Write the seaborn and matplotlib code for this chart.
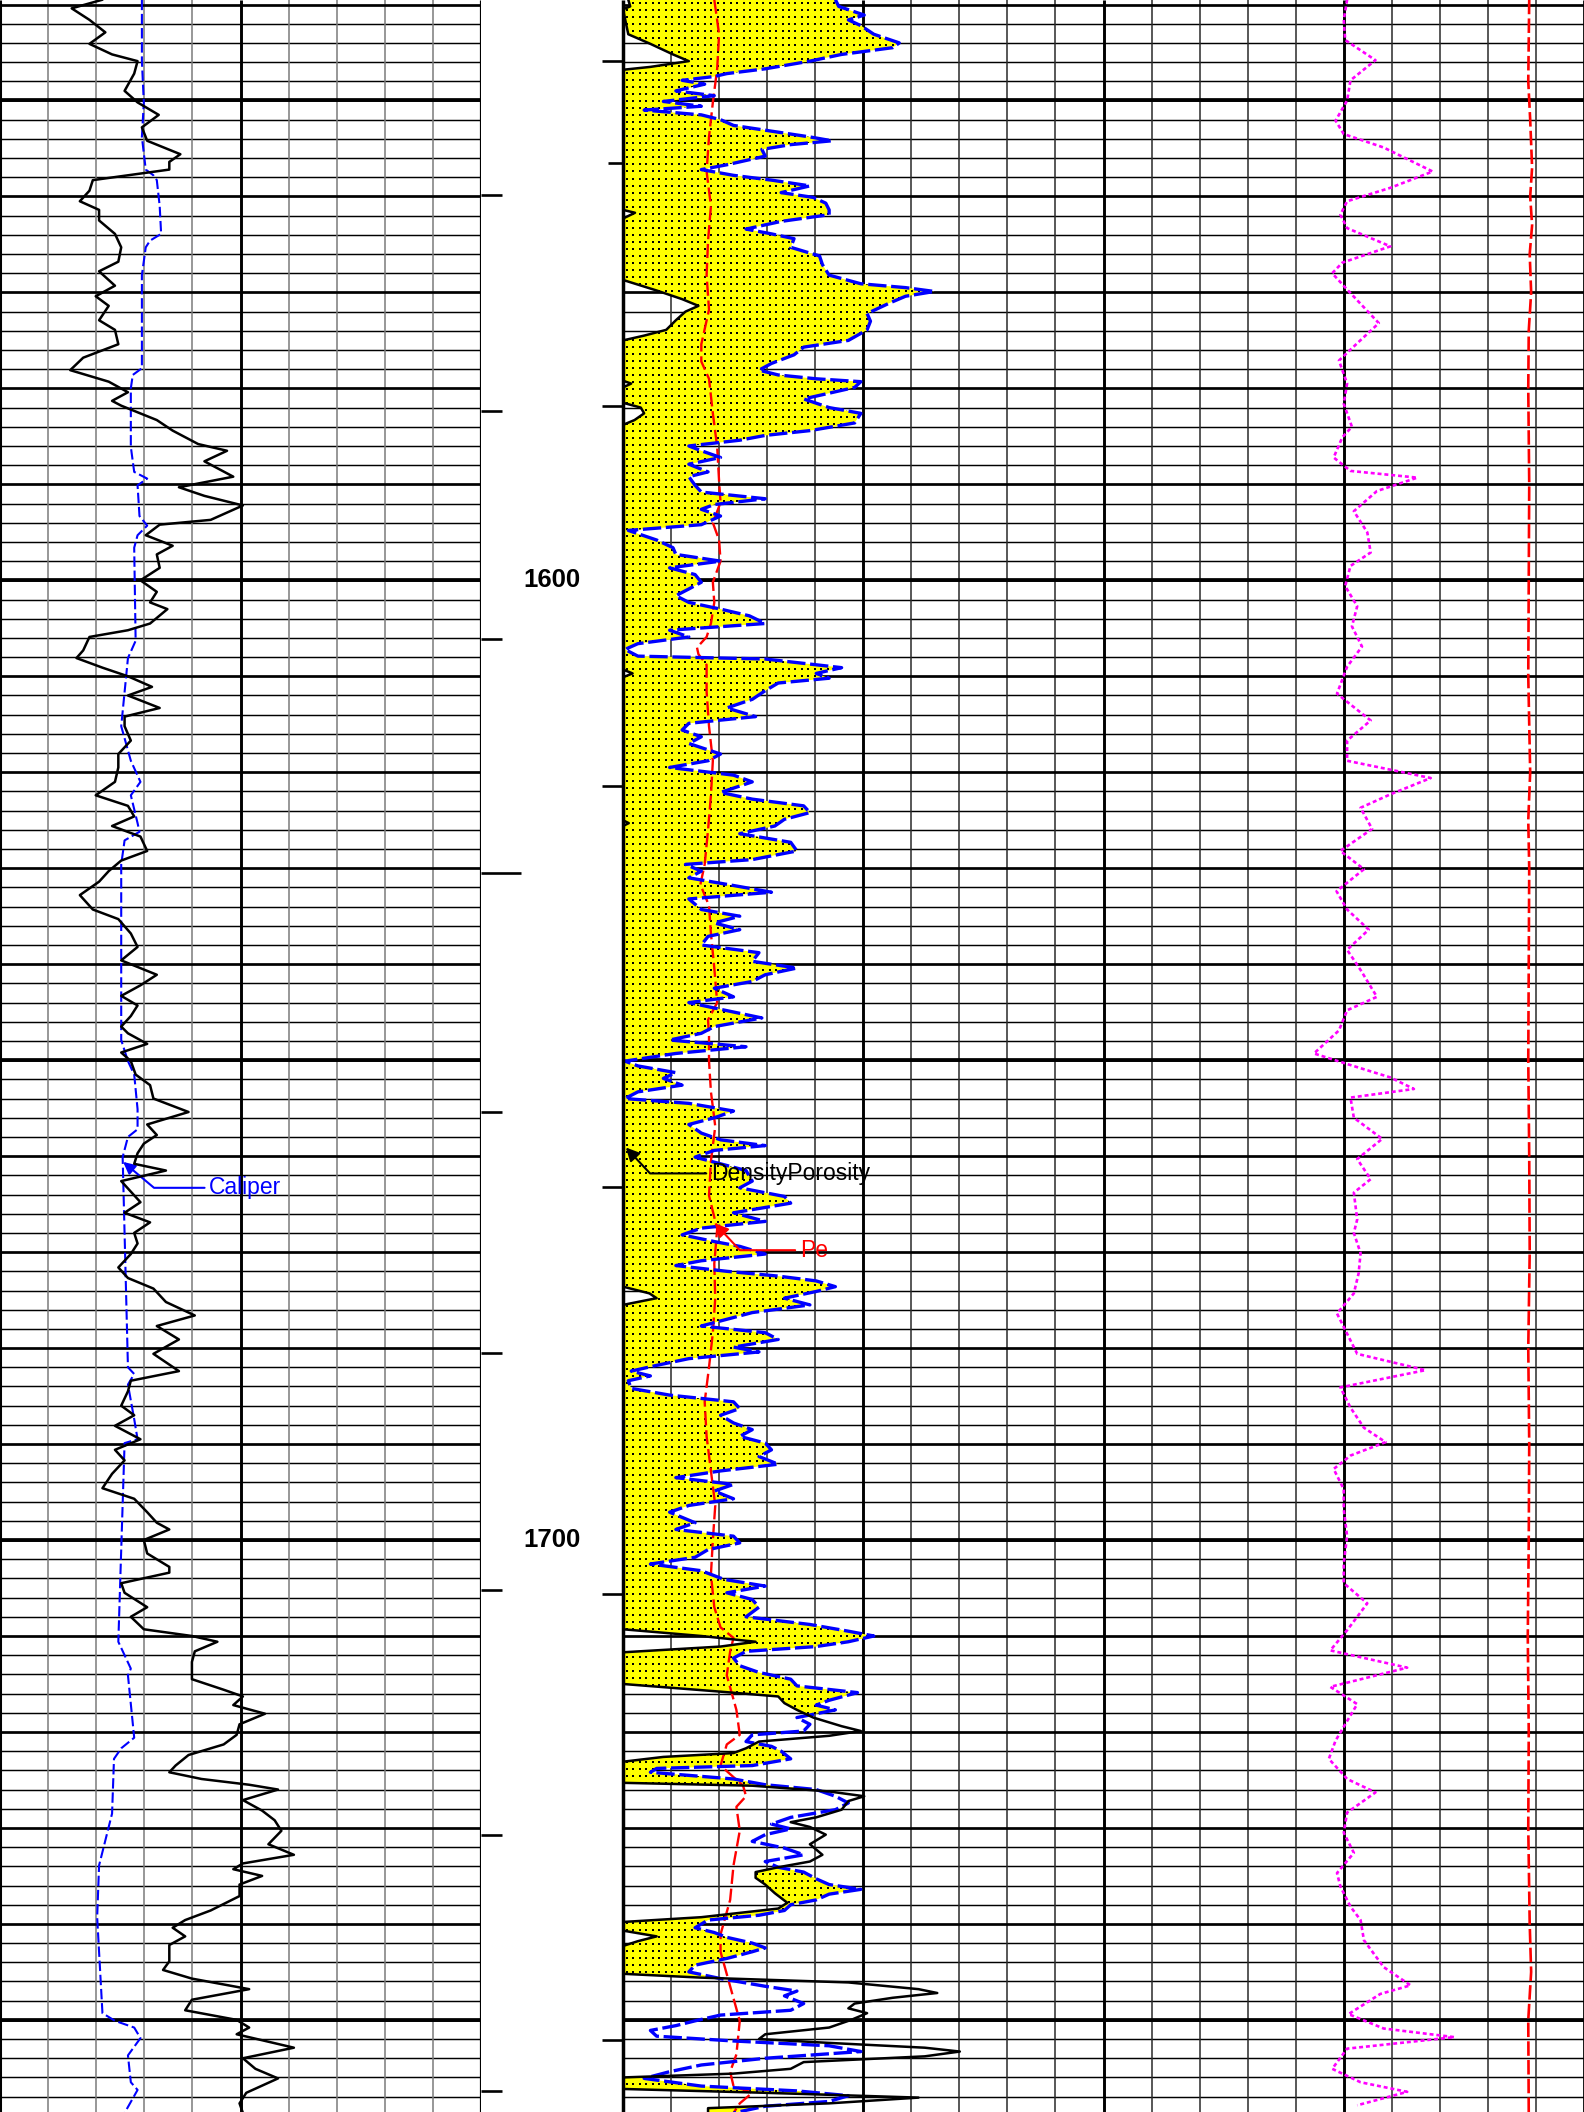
import numpy as np
import matplotlib
matplotlib.use("Agg")
import matplotlib.pyplot as plt
import seaborn as sns
from matplotlib.path import Path

# ---------------- depth window ----------------
DEPTH_TOP, DEPTH_BOT = 1539.53, 1759.6

# ---------------- track 1 : gamma ray (grid-division units, 0-10) ----------------
gr_depth = [1539.5, 1540.4, 1541.6, 1542.9, 1544.1, 1545.2, 1545.9, 1547.2, 1549.0, 1550.2,
            1551.5, 1552.8, 1554.2, 1555.6, 1556.4, 1557.2, 1557.8, 1558.3, 1559.4, 1560.5,
            1561.4, 1562.5, 1563.9, 1565.3, 1566.8, 1567.8, 1569.3, 1570.4, 1571.4, 1572.9,
            1573.9, 1575.4, 1576.8, 1578.1, 1579.3, 1580.4, 1581.3, 1581.8, 1583.3, 1584.4,
            1585.8, 1586.5, 1587.6, 1589.2, 1590.3, 1591.2, 1592.2,
            1593.7, 1594.2, 1595.3, 1596.4, 1597.3, 1598.7, 1600.0, 1601.2, 1602.3, 1603.0,
            1604.5, 1605.2, 1605.9, 1607.3, 1608.1, 1609.1, 1610.0, 1611.1, 1612.0, 1613.3,
            1614.2, 1615.2, 1616.7, 1618.1, 1619.5, 1621.0, 1622.4, 1623.5, 1624.6, 1625.6,
            1626.7, 1628.2, 1629.2, 1630.3, 1631.4, 1632.8, 1634.3, 1635.3, 1636.8, 1638.2,
            1639.6, 1641.1, 1642.2, 1643.3, 1644.3, 1645.4, 1646.5, 1647.2, 1648.3, 1649.2,
            1650.1, 1651.5, 1652.6, 1654.0, 1655.4, 1656.7, 1657.8, 1658.7, 1659.7, 1660.8,
            1661.5, 1662.6, 1663.7, 1664.8, 1665.9, 1666.9, 1668.0, 1669.1, 1670.2, 1671.6,
            1672.7, 1673.8, 1675.2, 1676.6, 1677.7, 1679.1, 1680.6, 1682.4, 1683.4, 1684.5,
            1686.0, 1687.0, 1688.1, 1689.5, 1690.6, 1691.7, 1693.1, 1694.6, 1695.7, 1697.1,
            1698.2, 1698.9, 1700.0, 1701.4, 1702.8,
            1703.4, 1704.5, 1705.5, 1707.0, 1708.0, 1709.3, 1710.0, 1710.6, 1711.6, 1712.7,
            1714.5, 1715.6, 1716.3, 1717.2, 1718.1, 1719.2, 1720.3, 1721.3, 1722.4, 1723.5,
            1724.2, 1724.9, 1725.5, 1726.0, 1727.1, 1728.2, 1729.2, 1730.3, 1731.7, 1732.8,
            1733.7, 1734.3, 1735.0, 1735.9, 1737.1, 1738.6, 1739.6, 1740.4, 1741.3, 1742.2,
            1743.9, 1744.8, 1745.7, 1746.8, 1747.9, 1749.0, 1750.0, 1750.8, 1751.5, 1752.9,
            1754.0, 1755.1, 1756.1, 1757.6, 1758.7, 1759.7]
gr_value = [2.13, 1.49, 1.86, 2.19, 1.86, 2.33, 2.86, 2.79, 2.59, 2.86,
            3.30, 2.95, 3.06, 3.75, 3.52, 3.52, 2.66, 1.93, 1.86, 1.66,
            2.06, 2.06, 2.39, 2.52, 2.46, 2.06, 2.39, 1.99, 2.26, 2.06,
            2.39, 2.46, 1.73, 1.46, 2.26, 2.66, 2.33, 2.52, 3.26, 3.59,
            4.12, 4.72, 4.25, 4.85, 3.72, 4.25, 5.05,
            4.38, 3.32, 3.03, 3.59, 3.26, 3.32, 2.92, 3.26, 3.12, 3.48,
            3.12, 2.66, 1.86, 1.73, 1.59, 2.13, 2.66, 3.16, 2.66, 3.32,
            2.59, 2.59, 2.72, 2.46, 2.46, 2.39, 1.99, 2.66, 2.79, 2.33,
            2.92, 3.06, 2.52, 2.26, 2.06, 1.66, 1.93, 2.46, 2.72, 2.86,
            2.52, 3.26, 2.92, 2.52, 2.86, 2.72, 2.52, 2.66, 3.06, 2.52,
            2.72, 2.82, 3.12, 3.19, 3.92, 3.06, 3.26, 2.99, 2.86, 2.79,
            3.45, 2.52, 2.72, 2.92, 2.59, 3.12, 2.79, 2.86, 2.72, 2.46,
            2.66, 3.19, 3.45, 4.05, 3.26, 3.72, 3.19, 3.72, 2.72, 2.66,
            2.52, 2.79, 2.39, 2.92, 2.39, 2.59, 2.33, 2.13, 2.79, 3.06,
            3.26, 3.52, 2.99, 3.06, 3.52,
            3.52, 2.52, 2.59, 3.06, 2.72, 2.99, 3.99, 4.52, 4.05, 3.99,
            3.99, 4.65, 5.05, 4.85, 5.51, 4.98, 4.92, 4.65, 3.92, 3.65,
            3.52, 4.19, 5.18, 5.78, 5.05, 5.45, 5.71, 5.85, 5.58, 6.11,
            5.05, 4.85, 5.45, 4.98, 4.98, 4.38, 3.85, 3.59, 3.85, 3.52,
            3.52, 3.39, 3.99, 5.18, 3.99, 3.85, 4.92, 5.18, 4.92, 6.11,
            5.05, 5.31, 5.78, 5.12, 4.98, 5.05]

# ---------------- track 1 : caliper ----------------
cal_depth = [1539.5, 1545.9, 1550.2, 1553.8, 1557.2, 1557.8, 1558.3, 1561.0, 1563.9, 1564.6,
             1565.3, 1568.2, 1577.9, 1578.6, 1580.0, 1586.1, 1588.7, 1589.4, 1590.1, 1593.3,
             1594.3, 1595.3, 1596.6, 1606.3, 1608.1, 1615.2, 1618.8, 1621.0, 1622.4, 1625.3,
             1626.2, 1627.1, 1629.6, 1647.9, 1650.1, 1651.5, 1655.1, 1657.2, 1658.0, 1660.1,
             1682.0, 1682.7, 1683.8, 1687.4, 1689.5, 1689.9, 1704.2, 1710.6, 1713.4, 1714.1,
             1720.6, 1721.7, 1722.8, 1728.5, 1733.9, 1739.3, 1749.3, 1750.1, 1750.8, 1751.9,
             1753.7, 1756.5, 1757.3, 1759.7]
cal_value = [2.95, 2.95, 2.99, 2.95, 3.03, 3.19, 3.26, 3.32, 3.35, 3.12,
             3.03, 2.95, 2.95, 2.76, 2.72, 2.72, 2.79, 3.06, 2.86, 2.90,
             3.06, 2.86, 2.79, 2.82, 2.66, 2.52, 2.72, 2.92, 2.72, 2.86,
             2.90, 2.59, 2.52, 2.52, 2.66, 2.79, 2.86, 2.86, 2.66, 2.55,
             2.66, 2.79, 2.66, 2.79, 2.86, 2.59, 2.50, 2.46, 2.72, 2.66,
             2.79, 2.52, 2.37, 2.33, 2.06, 2.02, 2.13, 2.39, 2.79, 2.92,
             2.66, 2.72, 2.86, 2.59]

# ---------------- track 2 : density porosity (grid-division units, 0-20) ----------------
dphi_depth = [1539.5, 1540.2, 1540.5, 1543.1, 1544.1, 1545.2, 1545.9, 1546.5, 1546.8, 1561.4,
              1561.7, 1562.3, 1568.7, 1569.8, 1570.7, 1571.4, 1572.0, 1572.9, 1573.9, 1574.5,
              1575.0, 1579.2, 1579.5, 1579.9, 1581.5, 1582.0, 1582.6, 1583.3, 1583.8, 1609.3,
              1609.7, 1610.1, 1625.0, 1625.3, 1625.6, 1673.6, 1674.3, 1674.8, 1675.5, 1709.3,
              1710.0, 1710.6, 1711.1, 1711.7, 1715.0, 1715.8, 1716.3, 1717.0, 1717.7, 1718.5,
              1719.4, 1719.9, 1720.4, 1721.0, 1721.7, 1722.2, 1722.6, 1723.1, 1725.3, 1725.6,
              1726.2, 1726.7, 1727.2, 1728.1, 1728.9, 1729.4, 1729.9, 1730.7, 1731.7, 1732.8,
              1733.5, 1734.1, 1734.6, 1735.2, 1735.9, 1736.8, 1737.8, 1738.4, 1739.3, 1739.8,
              1740.7, 1741.3, 1741.8, 1742.3, 1745.2, 1745.6, 1746.1, 1746.8, 1747.2, 1747.7,
              1748.3, 1748.8, 1749.3, 1750.0, 1750.8, 1751.5, 1752.0, 1752.4, 1752.9, 1753.3,
              1753.8, 1754.4, 1755.1, 1755.6, 1756.0, 1757.2, 1757.6, 1758.1, 1758.7, 1759.2,
              1759.7]
dphi_value = [0.11, 0.15, 0.0, 0.11, 0.57, 1.04, 1.37, 0.57, 0.0, 0.0,
              0.25, 0.0, 0.0, 0.70, 1.23, 1.57, 1.30, 1.10, 0.90, 0.44,
              0.0, 0.0, 0.17, 0.0, 0.0, 0.37, 0.44, 0.24, 0.0, 0.0,
              0.20, 0.0, 0.0, 0.12, 0.0, 0.0, 0.55, 0.70, 0.0, 0.0,
              1.63, 2.76, 2.03, 0.0, 0.0, 2.03, 3.23, 3.36, 3.62, 3.96,
              4.55, 4.95, 4.29, 2.83, 2.56, 2.30, 0.84, 0.0, 0.0, 2.69,
              4.29, 5.02, 4.69, 4.55, 4.02, 3.49, 3.89, 4.22, 3.89, 4.15,
              3.89, 3.23, 2.76, 2.76, 2.96, 3.16, 3.42, 3.23, 1.63, 0.0,
              0.0, 0.70, 0.31, 0.0, 0.0, 1.63, 4.69, 6.15, 6.54, 5.61,
              4.82, 4.69, 5.08, 4.75, 4.29, 2.96, 2.83, 4.29, 6.28, 7.01,
              6.28, 3.76, 3.49, 2.30, 0.0, 0.0, 2.96, 6.15, 4.29, 1.77,
              1.77]

# ---------------- track 2 : neutron porosity (blue dashed) ----------------
nphi_depth = [1539.5, 1540.2, 1541.1, 1541.6, 1542.2, 1543.1, 1544.0, 1544.5, 1545.2, 1545.9,
              1546.7, 1547.2, 1547.5, 1547.9, 1548.3, 1549.0, 1549.5, 1550.1, 1550.6, 1551.0,
              1551.5, 1552.0, 1552.6, 1553.1, 1553.8, 1554.2, 1554.6, 1555.1, 1555.8, 1556.7,
              1557.2, 1557.8, 1558.3, 1558.9, 1559.6, 1560.1, 1560.7, 1561.4, 1561.9, 1562.6,
              1563.4, 1563.9, 1564.4, 1565.3, 1566.2, 1567.1, 1568.2, 1569.1, 1569.5, 1569.9,
              1570.4, 1571.1, 1572.2, 1573.0, 1573.9, 1575.0, 1575.7, 1576.5, 1577.4, 1578.1,
              1578.6, 1579.0, 1579.3, 1579.9, 1581.1, 1582.0, 1582.6, 1583.6, 1584.4, 1584.9,
              1585.4, 1586.0, 1586.5, 1587.2, 1587.9, 1588.7, 1589.2, 1590.1, 1590.8, 1591.5,
              1592.1, 1592.6, 1593.3,
              1594.2, 1594.8, 1595.8, 1596.6, 1597.3, 1598.0, 1598.7, 1599.4, 1600.2, 1600.9,
              1601.6, 1602.3, 1603.0, 1603.7, 1604.5, 1605.2, 1605.9, 1606.6, 1607.2, 1607.9,
              1608.2, 1608.8, 1609.1, 1609.7, 1610.2, 1610.7, 1611.5, 1612.4, 1613.3, 1614.2,
              1614.9, 1615.6, 1616.3, 1617.0, 1618.1, 1618.8, 1619.5, 1620.3, 1621.0, 1622.1,
              1622.8, 1623.5, 1624.2, 1624.9, 1625.6, 1626.4, 1627.3, 1628.2, 1629.1, 1629.6,
              1630.3, 1631.0, 1631.8, 1632.5, 1633.2, 1634.3, 1635.0, 1635.7, 1636.4, 1637.1,
              1638.0, 1638.8, 1639.7, 1640.4, 1641.1, 1641.8, 1642.5, 1643.4, 1644.0, 1644.7,
              1645.6, 1646.5, 1647.2, 1647.9, 1648.6,
              1649.3, 1650.1, 1650.6, 1651.3, 1651.9, 1652.6, 1653.3, 1654.0, 1654.5, 1655.3,
              1656.0, 1656.7, 1657.6, 1658.3, 1658.9, 1659.4, 1660.1, 1660.8, 1661.5, 1662.6,
              1663.3, 1664.2, 1664.9, 1665.9, 1666.8, 1667.5, 1668.2, 1668.9, 1669.4, 1670.2,
              1670.9, 1671.4, 1672.0, 1672.5, 1673.0, 1673.6, 1674.1, 1674.8, 1675.5, 1676.3,
              1677.0, 1677.7, 1678.4, 1679.1, 1679.9, 1680.4, 1681.1, 1681.8, 1682.4, 1682.9,
              1683.4, 1684.2, 1684.9, 1685.6, 1686.3, 1687.0, 1687.8, 1688.5, 1689.2, 1689.9,
              1690.6, 1691.3, 1692.1, 1692.8, 1693.5, 1694.2, 1694.9, 1695.7, 1696.4, 1697.1,
              1698.2, 1698.9, 1699.6, 1700.3, 1701.0, 1701.8, 1702.5, 1703.2,
              1704.1, 1704.8, 1705.5, 1706.2, 1707.0, 1708.0, 1708.8, 1709.5, 1710.0, 1710.6,
              1711.1, 1711.6, 1712.3, 1713.1, 1713.8, 1714.5, 1715.2, 1715.9, 1716.7, 1717.2,
              1717.7, 1718.5, 1719.2, 1719.9, 1720.3, 1721.0, 1721.5, 1722.0, 1722.8, 1723.5,
              1723.8, 1724.2, 1724.9, 1725.5, 1726.0, 1726.7, 1727.4, 1728.1, 1728.9, 1729.6,
              1730.1, 1730.7, 1731.4, 1732.1, 1732.8, 1733.5, 1734.1, 1734.6, 1735.3, 1735.9,
              1736.4, 1736.9, 1737.5, 1738.0, 1738.6, 1739.1, 1739.6, 1740.4, 1740.9, 1741.4,
              1742.0, 1742.5, 1742.9, 1743.6, 1744.3, 1745.0, 1745.7, 1746.5, 1747.0, 1747.5,
              1748.3, 1749.0, 1749.5, 1750.1, 1750.6, 1751.1, 1751.7, 1752.2, 1752.7, 1753.3,
              1754.0, 1754.7, 1755.4, 1756.1, 1756.9, 1757.4, 1757.9, 1758.5, 1759.0, 1759.7]
nphi_value = [4.42, 4.49, 5.02, 4.69, 4.95, 5.22, 5.75, 5.61, 4.55, 3.89,
              2.96, 2.16, 1.90, 1.23, 1.70, 1.10, 1.90, 0.84, 1.63, 0.44,
              1.63, 2.03, 2.30, 2.96, 3.89, 4.35, 3.49, 2.89, 2.96, 2.16,
              1.63, 2.30, 3.09, 3.89, 3.29, 3.96, 4.22, 4.29, 4.29, 3.29,
              2.56, 3.09, 3.56, 3.49, 4.09, 4.15, 4.29, 4.95, 5.88, 6.48,
              5.88, 5.55, 5.08, 5.15, 5.08, 4.69, 3.76, 3.56, 3.09, 2.83,
              3.23, 4.02, 4.95, 4.82, 3.76, 4.29, 4.95, 4.82, 3.89, 2.96,
              2.43, 1.37, 1.63, 2.03, 1.37, 1.77, 1.37, 1.50, 1.63, 2.96,
              1.90, 1.63, 2.03,
              1.63, 0.11, 0.70, 1.04, 1.10, 2.03, 0.97, 1.50, 1.63, 1.37,
              1.10, 1.37, 2.03, 2.63, 2.96, 0.97, 1.37, 0.31, 0.04, 0.31,
              2.96, 4.02, 4.55, 4.02, 4.29, 3.23, 2.96, 2.69, 2.16, 2.76,
              1.37, 1.23, 1.63, 1.37, 2.03, 1.77, 0.97, 2.30, 2.69, 2.03,
              2.69, 3.76, 3.89, 3.36, 3.16, 2.43, 3.49, 3.62, 2.69, 1.30,
              1.63, 1.37, 2.30, 3.09, 1.37, 1.63, 2.43, 1.90, 2.43, 1.77,
              1.63, 2.83, 2.69, 3.62, 2.96, 2.69, 1.90, 2.30, 1.37, 2.03,
              2.89, 1.90, 1.63, 0.97, 2.56,
              1.10, 0.04, 0.31, 1.10, 0.84, 1.23, 0.31, 0.04, 1.37, 2.30,
              1.90, 1.37, 1.63, 2.03, 2.96, 1.90, 1.50, 2.03, 2.56, 2.69,
              2.43, 3.36, 3.49, 2.30, 2.96, 1.63, 1.23, 1.90, 2.43, 2.96,
              1.63, 1.10, 2.16, 3.23, 4.02, 4.42, 4.02, 3.36, 3.89, 2.69,
              2.16, 1.63, 2.96, 3.23, 2.30, 2.83, 1.37, 0.70, 0.17, 0.57,
              0.11, 0.17, 0.97, 2.30, 2.43, 2.03, 2.30, 2.69, 2.43, 2.96,
              3.09, 2.83, 3.23, 2.03, 1.10, 2.30, 1.90, 2.30, 1.37, 0.97,
              1.50, 1.10, 2.30, 2.43, 1.77, 1.50, 0.57, 1.63,
              2.10, 2.96, 2.16, 2.69, 2.83, 2.56, 3.89, 4.69, 5.22, 4.69,
              4.02, 2.56, 2.30, 2.43, 2.83, 3.49, 3.62, 4.88, 4.29, 4.02,
              4.42, 3.62, 3.89, 3.76, 2.69, 2.56, 3.09, 3.29, 3.49, 2.69,
              0.70, 0.57, 2.30, 2.96, 4.02, 4.42, 4.69, 4.42, 3.49, 3.09,
              3.49, 2.96, 2.69, 3.36, 3.76, 2.96, 3.23, 3.76, 4.02, 4.29,
              4.95, 4.29, 4.02, 3.49, 3.36, 2.83, 1.77, 1.50, 1.90, 2.16,
              2.69, 2.96, 2.69, 2.16, 1.50, 1.37, 2.03, 2.96, 3.62, 3.36,
              3.76, 3.49, 2.03, 1.50, 1.10, 0.57, 0.70, 2.30, 4.29, 4.95,
              2.96, 1.63, 0.97, 0.44, 1.63, 3.62, 4.69, 4.29, 2.96, 2.30]

# ---------------- track 2 : Pe (red dashed) ----------------
pe_depth = [1539.5, 1543.1, 1546.7, 1550.2, 1553.8, 1557.4, 1561.0, 1564.6, 1568.2, 1571.8,
            1575.4, 1577.2, 1579.0, 1582.6, 1586.1, 1589.7, 1591.9, 1594.0, 1595.8, 1598.0,
            1600.2, 1602.3, 1604.5, 1605.9, 1607.0, 1607.7, 1608.8, 1611.6, 1615.2, 1618.8,
            1622.4, 1626.0, 1629.6, 1631.7, 1633.9, 1636.8, 1640.4, 1644.0, 1645.8, 1647.5,
            1650.1, 1653.3, 1656.9, 1660.5, 1664.1, 1667.6, 1671.2, 1674.8, 1678.4, 1682.0,
            1685.6, 1689.2, 1692.8, 1696.4, 1700.0, 1703.6, 1707.0, 1709.1, 1710.2, 1711.6,
            1714.1, 1717.7, 1720.3, 1721.3, 1723.5, 1725.6, 1726.7, 1727.8, 1730.3, 1733.9,
            1737.5, 1741.1, 1742.9, 1746.5, 1750.1, 1753.6, 1755.4, 1756.9, 1757.6, 1758.7,
            1759.7]
pe_value = [1.90, 2.00, 1.96, 1.87, 1.79, 1.74, 1.83, 1.77, 1.74, 1.79,
            1.63, 1.63, 1.79, 1.87, 1.96, 2.00, 2.03, 1.87, 2.00, 2.03,
            1.87, 1.90, 1.83, 1.74, 1.54, 1.57, 1.74, 1.74, 1.79, 1.87,
            1.83, 1.77, 1.70, 1.61, 1.79, 1.83, 1.90, 1.96, 1.77, 1.79,
            1.79, 1.83, 1.92, 1.83, 1.79, 1.96, 1.90, 1.92, 1.87, 1.79,
            1.70, 1.74, 1.83, 1.92, 1.87, 1.83, 1.90, 2.03, 2.30, 2.23,
            2.16, 2.36, 2.43, 2.16, 2.03, 2.50, 2.56, 2.36, 2.43, 2.30,
            2.23, 2.03, 2.03, 2.23, 2.43, 2.36, 2.23, 2.30, 2.69, 2.43,
            2.30]

# ---------------- track 2 : magenta dotted curve ----------------
mag_depth = [1539.5, 1541.6, 1543.7, 1545.8, 1547.9, 1550.0, 1552.1, 1553.5, 1554.9, 1557.4,
             1559.1, 1560.5, 1561.9, 1563.3, 1565.2, 1566.9, 1568.0, 1569.7, 1573.2, 1575.3,
             1577.1, 1579.5, 1581.6, 1584.0, 1585.1, 1587.2, 1588.6, 1589.3, 1590.7, 1592.8,
             1595.0, 1597.1, 1598.5, 1600.6, 1602.7, 1604.8, 1606.9, 1609.0, 1611.8, 1612.5,
             1614.6, 1616.7, 1618.8, 1620.6, 1622.3, 1623.7, 1625.9, 1628.2, 1630.1, 1632.4,
             1634.3, 1636.4, 1638.5, 1640.6, 1643.4, 1644.8, 1646.9, 1649.3, 1650.4, 1651.8,
             1653.0, 1653.9, 1656.0, 1658.2, 1660.3, 1662.4, 1663.8, 1666.6, 1668.0, 1670.1,
             1672.2, 1674.3, 1676.4, 1678.5, 1680.6, 1682.3, 1684.1, 1686.2, 1688.3, 1689.8,
             1691.2, 1692.6, 1694.7, 1696.8, 1699.6, 1702.4, 1704.5, 1706.6, 1709.4, 1711.5,
             1713.3, 1715.3, 1717.1, 1719.2, 1720.9, 1722.8, 1724.9, 1726.3, 1728.4, 1730.5,
             1732.6, 1734.7, 1736.1, 1738.2, 1739.6, 1741.7, 1744.5, 1746.4, 1747.3, 1749.4,
             1750.9, 1751.8, 1753.0, 1755.1, 1756.5, 1757.5, 1758.9]
mag_value = [15.07, 15.00, 15.03, 15.66, 15.14, 15.07, 14.83, 15.00, 15.83, 16.85,
             15.97, 15.07, 14.93, 15.07, 15.97, 14.97, 14.76, 15.07, 15.73, 15.28,
             14.90, 15.07, 15.00, 15.17, 14.97, 14.79, 15.14, 16.53, 15.69, 15.21,
             15.49, 15.56, 15.14, 15.03, 15.28, 15.17, 15.38, 15.07, 14.86, 15.03,
             15.56, 15.07, 15.07, 16.81, 15.97, 15.35, 15.59, 14.93, 15.42, 14.85,
             15.07, 15.52, 15.07, 15.35, 15.69, 15.07, 14.90, 14.38, 15.07, 15.97,
             16.46, 15.14, 15.21, 15.80, 15.28, 15.56, 15.21, 15.28, 15.21, 15.35,
             15.31, 15.21, 14.86, 15.07, 15.28, 16.70, 14.93, 15.14, 15.42, 15.87,
             15.14, 14.79, 15.00, 15.00, 15.07, 15.00, 15.00, 15.49, 15.07, 14.72,
             16.32, 14.72, 15.28, 15.03, 14.83, 14.69, 15.07, 15.66, 15.07, 15.00,
             15.21, 14.86, 14.93, 15.14, 15.35, 15.42, 15.83, 16.39, 15.76, 15.10,
             15.83, 17.30, 15.07, 14.76, 15.35, 16.32, 15.28]

# ---------------- track 2 : red long-dashed curve ----------------
red_depth = [1539.5, 1548.0, 1552.0, 1557.0, 1560.0, 1563.0, 1566.0, 1570.0, 1574.0, 1580.0,
             1590.0, 1600.0, 1610.0, 1620.0, 1625.0, 1630.0, 1640.0, 1650.0, 1660.0, 1670.0,
             1680.0, 1690.0, 1700.0, 1710.0, 1720.0, 1730.0, 1740.0, 1745.0, 1750.0, 1759.7]
red_value = [18.86, 18.84, 18.88, 18.92, 18.88, 18.92, 18.87, 18.90, 18.85, 18.84,
             18.86, 18.85, 18.84, 18.88, 18.84, 18.86, 18.85, 18.84, 18.86, 18.87,
             18.84, 18.86, 18.85, 18.83, 18.85, 18.84, 18.87, 18.90, 18.84, 18.85]

# ---------------- depth track ----------------
depth_labels = [1600, 1700]
left_tick_depths = [1559.8, 1582.4, 1606.1, 1630.5, 1655.4, 1680.5, 1705.2, 1730.7, 1757.4]
right_tick_depths = [1545.9, 1556.5, 1581.8, 1621.4, 1663.2, 1705.6, 1752.1]

# =====================================================================
sns.set_style("white")
plt.rcParams["font.family"] = ["Liberation Sans", "DejaVu Sans"]

W, H = 1584, 2112
X1, X2 = 481, 623
fig = plt.figure(figsize=(W / 100, H / 100), dpi=100)
fig.patch.set_facecolor("white")
ax1 = fig.add_axes([0, 0, X1 / W, 1])
axd = fig.add_axes([X1 / W, 0, (X2 - X1) / W, 1])
ax2 = fig.add_axes([X2 / W, 0, (W - X2) / W, 1])


def draw_grid(ax, ndiv, minor_color):
    d_thin = np.arange(1540, 1760, 2)
    d_med = np.arange(1540, 1760, 10)
    d_thick = np.arange(1550, 1760, 50)
    ax.hlines(d_thin, 0, ndiv, color="black", lw=1.05, zorder=1)
    ax.hlines(d_med, 0, ndiv, color="black", lw=1.9, zorder=1.1)
    ax.hlines(d_thick, 0, ndiv, color="black", lw=2.7, zorder=1.2)
    minors = [i for i in range(1, ndiv) if i % 5]
    majors = [i for i in range(5, ndiv, 5)]
    ax.vlines(minors, DEPTH_TOP, DEPTH_BOT, color=minor_color, lw=1.1, zorder=1)
    ax.vlines(majors, DEPTH_TOP, DEPTH_BOT, color="black", lw=2.1, zorder=1.2)


draw_grid(ax1, 10, "#7a7a7a")
draw_grid(ax2, 20, "#2a2a2a")


def curve(ax, vals, deps, color, lw, dashes=None, z=3.0):
    sns.lineplot(x=vals, y=deps, orient="y", estimator=None, ax=ax,
                 color=color, linewidth=lw, legend=False)
    line = ax.lines[-1]
    if dashes is not None:
        line.set_dashes(dashes)
    line.set_zorder(z)
    line.set_solid_joinstyle("round")
    line.set_dash_joinstyle("round")
    line.set_solid_capstyle("round")
    return line


# ---- track 1 curves
curve(ax1, cal_value, cal_depth, "#0000ff", 1.5, dashes=(5, 1.8), z=3)
curve(ax1, gr_value, gr_depth, "black", 1.8, z=3.2)

# ---- track 2 fill between density and neutron
dgrid = np.union1d(dphi_depth, nphi_depth)
dphi_i = np.interp(dgrid, dphi_depth, dphi_value)
nphi_i = np.interp(dgrid, nphi_depth, nphi_value)
pc = ax2.fill_betweenx(dgrid, dphi_i, nphi_i, where=nphi_i > dphi_i, interpolate=True,
                       facecolor="#ffff00", edgecolor="none", lw=0, zorder=2)
clip = Path.make_compound_path(*pc.get_paths())
gx, gy = np.meshgrid(np.arange(0.08, 8.0, 0.135), np.arange(DEPTH_TOP + 0.35, DEPTH_BOT, 0.73))
dots = ax2.scatter(gx.ravel(), gy.ravel(), s=3.6, marker="s", c="black", linewidths=0, zorder=2.5)
dots.set_clip_path(clip, ax2.transData)

# ---- track 2 curves
curve(ax2, red_value, red_depth, "#ff0000", 1.9, dashes=(5.5, 1.6), z=3)
curve(ax2, mag_value, mag_depth, "#ff00ff", 1.9, dashes=(1.5, 1.1), z=3)
curve(ax2, pe_value, pe_depth, "#ff0000", 1.7, dashes=(6, 2.0), z=3.1)
curve(ax2, nphi_value, nphi_depth, "#0000ff", 2.4, dashes=(5.5, 1.4), z=3.2)
curve(ax2, dphi_value, dphi_depth, "black", 1.8, z=3.3)

# ---- borders
ax1.vlines([10], DEPTH_TOP, DEPTH_BOT, color="black", lw=2.3, zorder=5, clip_on=False)
ax1.vlines([0], DEPTH_TOP, DEPTH_BOT, color="black", lw=2.2, zorder=5)
ax2.vlines([0], DEPTH_TOP, DEPTH_BOT, color="black", lw=2.5, zorder=5, clip_on=False)
ax2.vlines([20], DEPTH_TOP, DEPTH_BOT, color="black", lw=2.0, zorder=5)

# ---- depth track
for d in left_tick_depths:
    L = 0.28 if abs(d - 1630.5) < 0.2 else 0.15
    axd.plot([0, L], [d, d], color="black", lw=1.9, solid_capstyle="butt")
for d in right_tick_depths:
    L = 0.106 if abs(d - 1556.5) < 0.2 else 0.148
    axd.plot([1 - L, 1], [d, d], color="black", lw=1.9, solid_capstyle="butt")
for d in depth_labels:
    axd.text(0.5, d, str(d), ha="center", va="center", fontsize=18.5, fontweight="bold",
             color="black")

# ---- annotations
ax1.annotate("Caliper", xy=(2.56, 1660.6), xytext=(4.35, 1663.3), color="#0000ff",
             fontsize=16.5, ha="left", va="center",
             arrowprops=dict(arrowstyle="-|>", color="#0000ff", lw=1.5, mutation_scale=18,
                             connectionstyle="angle,angleA=0,angleB=140,rad=0",
                             relpos=(0, 0.5), shrinkA=1, shrinkB=0))
ax2.annotate("DensityPorosity", xy=(0.06, 1659.1), xytext=(1.83, 1661.8), color="black",
             fontsize=16.5, ha="left", va="center", zorder=6,
             arrowprops=dict(arrowstyle="-|>", color="black", lw=1.5, mutation_scale=20,
                             connectionstyle="angle,angleA=0,angleB=133,rad=0",
                             relpos=(0, 0.5), shrinkA=1, shrinkB=0))
ax2.annotate("Pe", xy=(1.91, 1667.0), xytext=(3.68, 1669.8), color="#ff0000",
             fontsize=16.5, ha="left", va="center", zorder=6,
             arrowprops=dict(arrowstyle="-|>", color="#ff0000", lw=1.5, mutation_scale=20,
                             connectionstyle="angle,angleA=0,angleB=133,rad=0",
                             relpos=(0, 0.5), shrinkA=1, shrinkB=0))

for ax, xl in ((ax1, (0, 10)), (axd, (0, 1)), (ax2, (0, 20))):
    ax.set_xlim(*xl)
    ax.set_ylim(DEPTH_BOT, DEPTH_TOP)
    ax.set_xticks([])
    ax.set_yticks([])
    ax.set_xlabel("")
    ax.set_ylabel("")
    ax.set_facecolor("white")
    for s in ax.spines.values():
        s.set_visible(False)

fig.savefig("out.png", dpi=100, facecolor="white")
